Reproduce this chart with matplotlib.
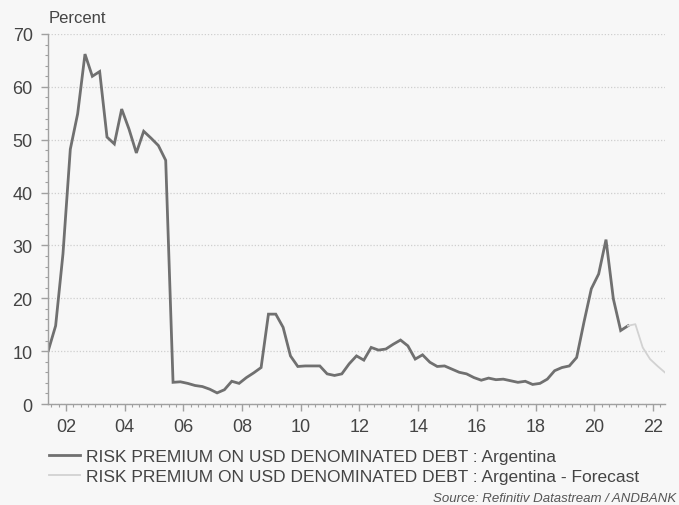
import matplotlib.pyplot as plt
from matplotlib.ticker import MultipleLocator, FixedLocator

plt.rcParams['font.family'] = ['Liberation Sans', 'DejaVu Sans']

# quarterly observations, first one around mid 2001
start_year = 2001.4
risk_premium = [
    10.1, 14.8, 28.4, 48.2, 54.9, 66.2, 62.0, 62.9, 50.5, 49.2,
    55.8, 52.0, 47.5, 51.6, 50.3, 48.9, 46.1, 4.1, 4.2, 3.9,
    3.5, 3.3, 2.8, 2.1, 2.7, 4.3, 3.9, 5.0, 5.9, 6.9,
    17.0, 17.0, 14.5, 9.1, 7.1, 7.2, 7.2, 7.2, 5.7, 5.4,
    5.7, 7.6, 9.1, 8.3, 10.7, 10.2, 10.4, 11.3, 12.1, 11.0,
    8.5, 9.3, 7.9, 7.1, 7.2, 6.6, 6.0, 5.7, 5.0, 4.5,
    4.9, 4.6, 4.7, 4.4, 4.1, 4.3, 3.7, 3.9, 4.7, 6.3,
    6.9, 7.2, 8.8, 15.5, 21.8, 24.6, 31.1, 19.9, 13.9, 14.8,
]
forecast = [14.8, 15.1, 10.7, 8.5, 7.2, 6.0]

years = [start_year + 0.25 * i for i in range(len(risk_premium))]
fc_start = years[-1]
fc_years = [fc_start + 0.25 * i for i in range(len(forecast))]

year_ticks = list(range(2002, 2023, 2))
year_labels = ['%02d' % (y % 100) for y in year_ticks]

bg = '#f7f7f7'
txt = '#444444'

fig = plt.figure(figsize=(6.79, 5.06), dpi=100, facecolor=bg)
ax = fig.add_axes([48 / 679, 1 - 405 / 506, 617 / 679, 370 / 506], facecolor=bg)

l1, = ax.plot(years, risk_premium, color='#707070', lw=2.0, solid_joinstyle='miter',
              label='RISK PREMIUM ON USD DENOMINATED DEBT : Argentina')
l2, = ax.plot(fc_years, forecast, color='#d2d2d2', lw=1.3,
              label='RISK PREMIUM ON USD DENOMINATED DEBT : Argentina - Forecast')

ax.set_ylim(0, 70)
ax.set_xlim(2001.39, 2022.41)
ax.yaxis.set_major_locator(MultipleLocator(10))
ax.yaxis.set_minor_locator(MultipleLocator(2))
ax.xaxis.set_major_locator(FixedLocator(year_ticks))
ax.xaxis.set_minor_locator(MultipleLocator(0.25))
ax.set_xticklabels(year_labels)

ax.grid(axis='y', which='major', color='#cfcfcf', linestyle=(0, (1, 1.5)), lw=0.9)
for s in ['top', 'right']:
    ax.spines[s].set_visible(False)
for s in ['left', 'bottom']:
    ax.spines[s].set_color('#a0a0a0')
    ax.spines[s].set_linewidth(1.0)

ax.tick_params(axis='both', which='major', colors='#a0a0a0', labelcolor=txt,
               labelsize=13, length=5, width=1)
ax.tick_params(axis='both', which='minor', colors='#a0a0a0', length=2.5, width=0.8)
ax.tick_params(axis='y', pad=6)
ax.tick_params(axis='x', pad=5)

fig.text(49 / 679, 1 - 23 / 506, 'Percent', fontsize=12, color=txt, va='baseline')

fig.legend(handles=[l1, l2], loc='upper left', bbox_to_anchor=(40 / 679, 1 - 441 / 506),
           frameon=False, fontsize=12.5, handlelength=1.8, handletextpad=0.35,
           labelspacing=0.3, labelcolor=txt, borderpad=0)

fig.text(676 / 679, 1 - 502 / 506, 'Source: Refinitiv Datastream / ANDBANK',
         fontsize=9.5, style='italic', color='#555555', ha='right', va='baseline')

fig.savefig('out.png', dpi=100, facecolor=bg)
